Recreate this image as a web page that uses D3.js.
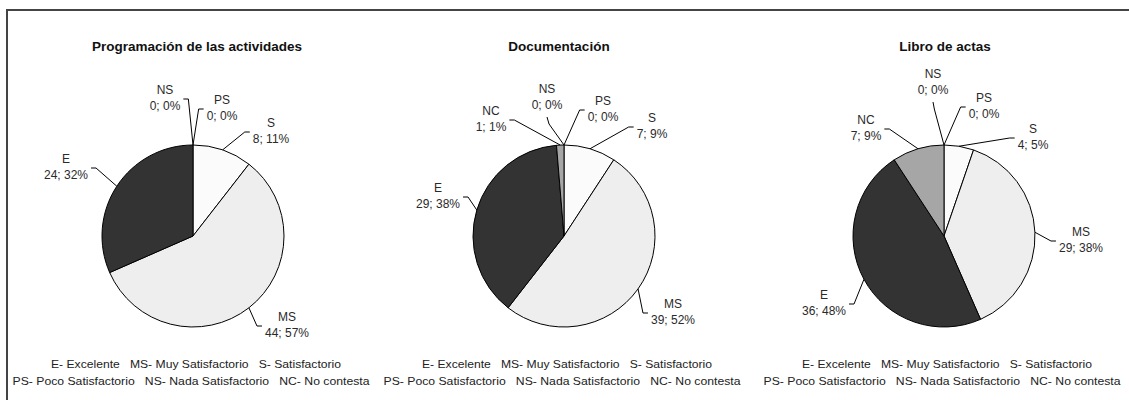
<!DOCTYPE html>
<html>
<head>
<meta charset="utf-8">
<script src="https://cdn.jsdelivr.net/npm/d3@7"></script>
<style>
  body { margin: 0; background: #fff; }
  text { font-family: "Liberation Sans", Arial, sans-serif; }
</style>
</head>
<body>
<div id="chart-area"></div>
<script>
// Data
const titles = ["Programación de las actividades", "Documentación", "Libro de actas"];
const categories = ["S", "MS", "E", "NC", "NS", "PS"];
const counts1 = [8, 44, 24, null, 0, 0];
const counts2 = [7, 39, 29, 1, 0, 0];
const counts3 = [4, 29, 36, 7, 0, 0];
const pcts1 = ["11%", "57%", "32%", null, "0%", "0%"];
const pcts2 = ["9%", "52%", "38%", "1%", "0%", "0%"];
const pcts3 = ["5%", "38%", "48%", "9%", "0%", "0%"];
const legendLine1 = "E- Excelente   MS- Muy Satisfactorio   S- Satisfactorio";
const legendLine2 = "PS- Poco Satisfactorio   NS- Nada Satisfactorio   NC- No contesta";

const width = 1129, height = 400;
const radius = 91, cy = 236;

const colors = {S: "#fbfbfb", MS: "#eeeeee", E: "#333333", NC: "#a6a6a6", NS: "#ffffff", PS: "#ffffff"};

// layout of each chart: centre x, title offset, label offsets from centre
const layout = [
  {cx: 193, titleDx: 4,
    labels: {NS: [-28, -137], PS: [29, -127], S: [78, -104], E: [-127, -68], MS: [94, 90]}},
  {cx: 564, titleDx: -5,
    labels: {NC: [-73, -116], NS: [-17, -138], PS: [39, -126], S: [88, -109], E: [-126, -39], MS: [109, 77]}},
  {cx: 944, titleDx: 1,
    labels: {NC: [-78, -107], NS: [-11, -153], PS: [40, -129], S: [89, -98], E: [-120, 68], MS: [137, 5]}}
];

const allCounts = [counts1, counts2, counts3];
const allPcts = [pcts1, pcts2, pcts3];

const svg = d3.select("#chart-area").append("svg")
  .attr("width", width)
  .attr("height", height);

svg.append("rect").attr("width", width).attr("height", height).attr("fill", "#fff");

// frame
svg.append("path")
  .attr("d", "M7,400 V10 H" + width)
  .attr("fill", "none")
  .attr("stroke", "#444")
  .attr("stroke-width", 2);

const pie = d3.pie().sort(null).value(d => d.value);
const arc = d3.arc().innerRadius(0).outerRadius(radius);

titles.forEach((title, i) => {
  const L = layout[i];
  const data = categories
    .map((c, j) => ({cat: c, value: allCounts[i][j], pct: allPcts[i][j]}))
    .filter(d => d.value !== null);
  const arcs = pie(data);

  const g = svg.append("g")
    .attr("transform", "translate(" + L.cx + "," + cy + ")");

  // title
  svg.append("text")
    .attr("x", L.cx + L.titleDx)
    .attr("y", 51)
    .attr("text-anchor", "middle")
    .attr("font-size", "13.5px")
    .attr("font-weight", "bold")
    .attr("fill", "#111")
    .text(title);

  // slices
  g.selectAll(".slice")
    .data(arcs.filter(d => d.value > 0))
    .enter().append("path")
    .attr("class", "slice")
    .attr("d", arc)
    .attr("fill", d => colors[d.data.cat])
    .attr("stroke", "#000")
    .attr("stroke-width", 1);

  // labels + leader lines
  arcs.forEach(d => {
    const off = L.labels[d.data.cat];
    const a = (d.startAngle + d.endAngle) / 2;
    const ax = radius * Math.sin(a), ay = -radius * Math.cos(a);
    const lx = off[0], mid = off[1];

    const t = g.append("text")
      .attr("text-anchor", "middle")
      .attr("font-size", "12px")
      .attr("fill", "#2a2a2a");
    const t1 = t.append("tspan").attr("x", lx).attr("y", mid - 5).text(d.data.cat);
    const t2 = t.append("tspan").attr("x", lx).attr("y", mid + 11).text(d.data.value + "; " + d.data.pct);
    const hw = Math.max(t1.node().getComputedTextLength(), t2.node().getComputedTextLength()) / 2;

    let pts;
    if (Math.abs(ax - lx) < hw + 3) {
      const by = mid + 11 + 8;
      pts = [[lx, by], [lx + (ax - lx) * 0.12, by + 7], [ax, ay]];
    } else {
      const s = ax > lx ? 1 : -1;
      const ex = lx + s * (hw + 3);
      pts = [[ex, mid], [ex + s * 5, mid], [ax, ay]];
    }
    g.append("path")
      .attr("d", d3.line()(pts))
      .attr("fill", "none")
      .attr("stroke", "#000")
      .attr("stroke-width", 1);
  });

  // legend
  [[legendLine1, 3, 368, 290], [legendLine2, -2, 385, 357]].forEach(([txt, dx, y, len]) => {
    svg.append("text")
      .attr("x", L.cx + dx)
      .attr("y", y)
      .attr("text-anchor", "middle")
      .attr("font-size", "11px")
      .attr("fill", "#222")
      .attr("textLength", len)
      .attr("lengthAdjust", "spacingAndGlyphs")
      .style("white-space", "pre")
      .text(txt);
  });
});
</script>
</body>
</html>
